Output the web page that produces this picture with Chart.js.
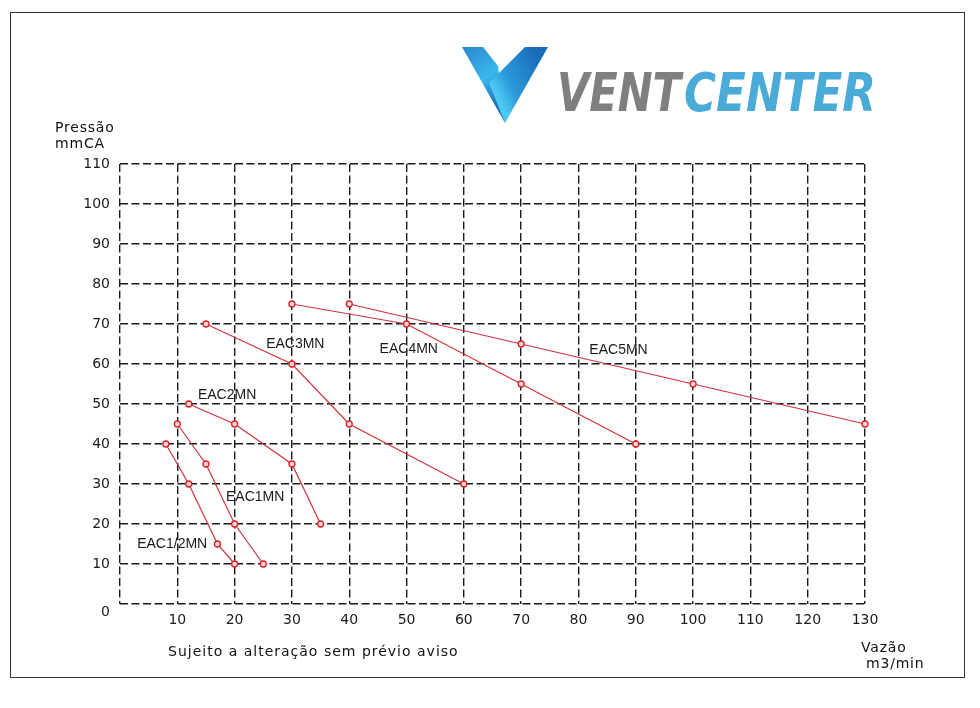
<!DOCTYPE html>
<html><head><meta charset="utf-8">
<script src="https://cdn.jsdelivr.net/npm/chart.js@4"></script>
<style>
html,body{margin:0;padding:0;background:#fff;}
#wrap{position:relative;width:980px;height:708px;overflow:hidden;background:#fff;}
#c{position:absolute;left:0;top:0;}
.frame{position:absolute;left:10px;top:12px;width:955px;height:666px;border:1px solid #333;box-sizing:border-box;}
#logo{position:absolute;left:0;top:0;}
</style></head>
<body>
<div id="wrap">
  <div class="frame"></div>
  <canvas id="c" width="980" height="708"></canvas>
  <svg id="logo" width="980" height="140" viewBox="0 0 980 140">
    <defs>
      <linearGradient id="gL" gradientUnits="userSpaceOnUse" x1="462" y1="47" x2="500" y2="100">
        <stop offset="0" stop-color="#2a86cc"/>
        <stop offset="0.6" stop-color="#3ab8ec"/>
        <stop offset="1" stop-color="#1d70b8"/>
      </linearGradient>
      <linearGradient id="gR" gradientUnits="userSpaceOnUse" x1="492" y1="85" x2="540" y2="60">
        <stop offset="0" stop-color="#4cc8f2"/>
        <stop offset="0.3" stop-color="#2b9ada"/>
        <stop offset="1" stop-color="#1a6cb8"/>
      </linearGradient>
    </defs>
    <polygon points="462,47 483,47 498,66 505,123" fill="url(#gL)"/>
    <polygon points="525,47 548,47 505,123 489,83" fill="url(#gR)"/>
    <text x="557" y="111" font-family="DejaVu Sans" font-weight="bold" font-style="oblique" font-size="53" fill="#7f7f80" textLength="124" lengthAdjust="spacingAndGlyphs">VENT</text>
    <text x="684" y="111" font-family="DejaVu Sans" font-weight="bold" font-style="oblique" font-size="53" fill="#4aaad8" textLength="192" lengthAdjust="spacingAndGlyphs">CENTER</text>
  </svg>
</div>
<script>
// ---- data ----
const seriesNames = ['EAC1/2MN', 'EAC1MN', 'EAC2MN', 'EAC3MN', 'EAC4MN', 'EAC5MN'];
const flowEAC12 = [8, 12, 17, 20];
const pressEAC12 = [40, 30, 15, 10];
const flowEAC1 = [10, 15, 20, 25];
const pressEAC1 = [45, 35, 20, 10];
const flowEAC2 = [12, 20, 30, 35];
const pressEAC2 = [50, 45, 35, 20];
const flowEAC3 = [15, 30, 40, 60];
const pressEAC3 = [70, 60, 45, 30];
const flowEAC4 = [30, 50, 70, 90];
const pressEAC4 = [75, 70, 55, 40];
const flowEAC5 = [40, 70, 100, 130];
const pressEAC5 = [75, 65, 55, 45];
// label anchor (data units) for each series name
const labelFlow = [3, 18.5, 13.6, 25.5, 45.3, 81.9];
const labelPress = [15, 26.8, 52.3, 65, 63.7, 63.5];
const xMin = 0, xMax = 130, xStep = 10;
const yMin = 0, yMax = 110, yStep = 10;

const flows = [flowEAC12, flowEAC1, flowEAC2, flowEAC3, flowEAC4, flowEAC5];
const presses = [pressEAC12, pressEAC1, pressEAC2, pressEAC3, pressEAC4, pressEAC5];

const RED = '#d3323a';
const datasets = seriesNames.map((name, i) => ({
  label: name,
  data: flows[i].map((f, j) => ({x: f, y: presses[i][j]})),
  showLine: true,
  clip: false,
  borderColor: RED,
  borderWidth: 1.2,
  pointRadius: 3,
  pointBorderWidth: 1.3,
  pointBorderColor: '#e0202a',
  pointBackgroundColor: '#fbd3d3',
  tension: 0
}));

const tickFont = {family: 'DejaVu Sans', size: 14};
const gridDash = [8, 3.5];

const labelPlugin = {
  id: 'labels',
  afterDatasetsDraw(chart) {
    const ctx = chart.ctx, xs = chart.scales.x, ys = chart.scales.y;
    ctx.save();
    ctx.font = "14px 'Liberation Sans'";
    ctx.fillStyle = '#1a1a1a';
    ctx.textAlign = 'left';
    ctx.textBaseline = 'middle';
    seriesNames.forEach((n, i) => {
      ctx.fillText(n, xs.getPixelForValue(labelFlow[i]), ys.getPixelForValue(labelPress[i]));
    });
    ctx.restore();
  },
  afterDraw(chart) {
    const ctx = chart.ctx;
    ctx.save();
    ctx.fillStyle = '#111';
    ctx.textAlign = 'left';
    ctx.textBaseline = 'alphabetic';
    ctx.font = "14px 'DejaVu Sans'";
    ctx.letterSpacing = '0.8px';
    ctx.fillText('Pressão', 55, 132);
    ctx.fillText('mmCA', 55, 148);
    ctx.fillText('Vazão', 861, 652);
    ctx.fillText('m3/min', 866, 668);
    ctx.font = "14px 'DejaVu Sans'";
    ctx.letterSpacing = '1px';
    ctx.fillText('Sujeito a alteração sem prévio aviso', 168, 656);
    ctx.restore();
  }
};

new Chart(document.getElementById('c'), {
  type: 'scatter',
  data: {datasets},
  plugins: [labelPlugin],
  options: {
    responsive: false,
    animation: false,
    devicePixelRatio: 1,
    layout: {padding: {left: 60, top: 164, right: 115, bottom: 64}},
    plugins: {legend: {display: false}, tooltip: {enabled: false}},
    scales: {
      x: {
        type: 'linear', min: xMin, max: xMax,
        ticks: {stepSize: xStep, font: tickFont, color: '#1a1a1a', padding: 8,
          callback: v => v === 0 ? '' : String(v)},
        grid: {color: '#1a1a1a', lineWidth: 1.4, drawTicks: false},
        border: {display: false, dash: gridDash},
        afterFit(s) { s.height = 40; }
      },
      y: {
        type: 'linear', min: yMin, max: yMax,
        ticks: {stepSize: yStep, font: tickFont, color: '#1a1a1a', padding: 10,
          callback: v => v === 0 ? ['', '0'] : String(v)},
        grid: {color: '#1a1a1a', lineWidth: 1.4, drawTicks: false},
        border: {display: false, dash: gridDash},
        afterFit(s) { s.width = 60; }
      }
    }
  }
});
</script>
</body></html>
